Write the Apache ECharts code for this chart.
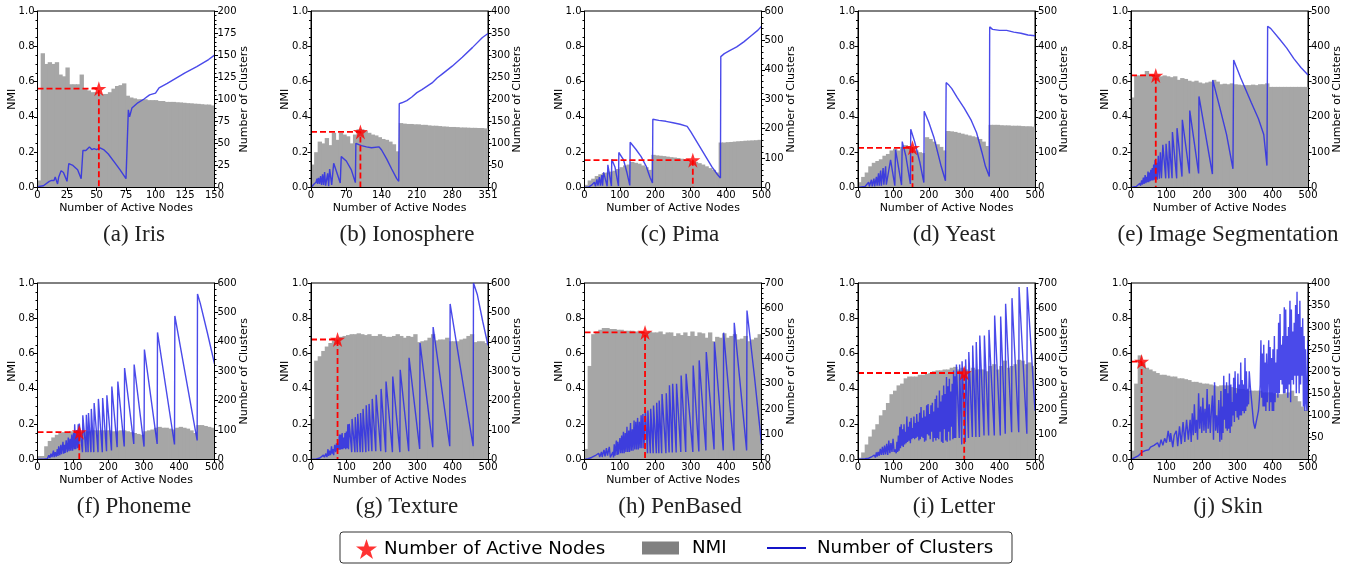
<!DOCTYPE html>
<html><head><meta charset="utf-8">
<style>html,body{margin:0;padding:0;background:#fff}#c{width:1356px;height:564px}</style>
<script src="https://cdn.jsdelivr.net/npm/echarts@6/dist/echarts.min.js"></script>
</head><body><div id="c"></div>
<script>
// ---------- shared NMI bar positions ----------
const nodes150=[1.5,4.5,7.5,10.5,13.5,16.5,19.5,22.5,25.5,28.5,31.5,34.5,37.5,40.5,43.5,46.5,49.5,52.5,55.5,58.5,61.5,64.5,67.5,70.5,73.5,76.5,79.5,82.5,85.5,88.5,91.5,94.5,97.5,100.5,103.5,106.5,109.5,112.5,115.5,118.5,121.5,124.5,127.5,130.5,133.5,136.5,139.5,142.5,145.5,148.5];
const nodes351=[3.5,10.5,17.5,24.5,31.5,38.5,45.5,52.5,59.5,66.5,73.5,80.5,87.5,94.5,101.5,108.5,115.5,122.5,129.5,136.5,143.5,150.5,157.5,164.5,171.5,178.5,185.5,192.5,199.5,206.5,213.5,220.5,227.5,234.5,241.5,248.5,255.5,262.5,269.5,276.5,283.5,290.5,297.5,304.5,311.5,318.5,325.5,332.5,339.5,347.5];
const nodes500=[5,15,25,35,45,55,65,75,85,95,105,115,125,135,145,155,165,175,185,195,205,215,225,235,245,255,265,275,285,295,305,315,325,335,345,355,365,375,385,395,405,415,425,435,445,455,465,475,485,495];

// ---------- NMI values ----------
const irisNmi=[.04,.76,.70,.71,.70,.71,.64,.63,.68,.585,.585,.585,.64,.56,.55,.54,.54,.535,.53,.53,.54,.56,.575,.58,.59,.52,.51,.505,.5,.5,.5,.495,.495,.495,.49,.49,.485,.485,.485,.483,.482,.48,.478,.477,.475,.474,.472,.47,.47,.465];
const ionoNmi=[.13,.20,.26,.25,.28,.24,.31,.27,.31,.30,.29,.25,.30,.33,.33,.32,.31,.30,.295,.285,.275,.27,.26,.245,.205,.365,.362,.36,.36,.358,.358,.355,.355,.352,.35,.35,.348,.346,.345,.343,.343,.342,.34,.34,.339,.338,.338,.337,.337,.335];
const pimaNmi=[.015,.04,.05,.065,.075,.082,.085,.09,.095,.105,.115,.125,.13,.145,.14,.135,.125,.115,.10,.185,.182,.18,.178,.175,.172,.17,.167,.163,.16,.155,.15,.145,.138,.13,.12,.11,.10,.085,.255,.255,.257,.258,.26,.262,.263,.265,.266,.267,.268,.27];
const yeastNmi=[.03,.06,.085,.12,.14,.15,.16,.18,.19,.21,.22,.21,.23,.24,.235,.23,.21,.20,.195,.285,.275,.26,.245,.23,.21,.32,.318,.315,.31,.305,.30,.295,.29,.285,.275,.26,.235,.355,.355,.355,.353,.352,.352,.35,.35,.35,.348,.347,.347,.345];
const imageNmi=[.51,.635,.635,.64,.66,.64,.635,.64,.63,.635,.63,.625,.63,.61,.62,.615,.605,.60,.605,.595,.59,.595,.60,.61,.60,.585,.588,.585,.59,.585,.583,.58,.58,.58,.583,.58,.585,.585,.59,.57,.57,.57,.57,.57,.57,.57,.57,.57,.57,.57];
const phonemeNmi=[.02,.02,.075,.105,.125,.14,.15,.155,.15,.16,.155,.16,.155,.16,.16,.165,.165,.165,.165,.165,.165,.16,.16,.165,.165,.16,.155,.15,.145,.14,.16,.165,.17,.18,.185,.18,.18,.175,.17,.18,.185,.18,.175,.165,.15,.195,.195,.19,.185,.18];
const textureNmi=[.23,.56,.585,.615,.64,.66,.675,.685,.695,.70,.705,.71,.71,.715,.71,.705,.71,.70,.70,.71,.70,.695,.695,.70,.71,.70,.69,.70,.695,.71,.665,.67,.675,.69,.71,.675,.68,.68,.69,.67,.67,.67,.68,.685,.70,.71,.665,.67,.67,.66];
const penNmi=[.06,.53,.71,.725,.735,.745,.745,.74,.74,.735,.735,.73,.73,.73,.725,.725,.72,.72,.725,.72,.72,.725,.71,.72,.72,.70,.715,.705,.72,.70,.725,.70,.72,.715,.69,.72,.67,.695,.69,.715,.69,.70,.71,.68,.685,.70,.67,.68,.69,.71];
const letterNmi=[.01,.04,.085,.13,.17,.20,.25,.28,.32,.37,.39,.42,.43,.46,.47,.47,.47,.48,.48,.485,.49,.50,.505,.505,.51,.51,.52,.525,.51,.52,.51,.50,.52,.51,.51,.51,.50,.53,.54,.51,.53,.56,.52,.53,.54,.565,.56,.54,.55,.53];
const skinNmi=[.05,.43,.59,.55,.52,.51,.50,.49,.48,.48,.475,.47,.47,.46,.46,.455,.45,.44,.44,.435,.43,.43,.425,.42,.415,.42,.42,.42,.41,.405,.40,.40,.395,.39,.39,.39,.39,.38,.38,.38,.375,.37,.37,.375,.38,.39,.36,.33,.30,.28];

// ---------- cluster curves: x positions and counts ----------
const irisX=[0,5,10,12,13,14,15,17,18,20,22,25,26,26.5,30,34,37,38.5,41,42,44,46,48,50,53,56,60,65,70,75,77,78,80,85,90,95,100,103,110,115,125,135,145,150];
const irisC=[1,2,7,8,10,8,12,4,12,19,17,7,6,27,25,20,10,42,42,41,46,43,44,43,45,43,38,29,20,10,88,80,90,96,100,105,107,113,118,122,130,137,145,150];
const ionoX=[0,6,10,12,13,15,17,19,21,23,25,27,29,33,35,37,41,45,50,58,60,70,80,88,89,91,95,100,110,120,135,140,150,160,170,174,175,180,190,200,210,220,240,250,260,280,300,320,340,351];
const ionoC=[0,8,12,20,8,22,8,26,6,30,6,35,4,32,3,42,6,55,38,10,70,60,40,11,100,100,97,95,92,90,92,85,65,42,20,14,190,192,197,205,215,222,237,248,257,275,295,317,340,349];
const pimaX=[0,12,20,24,28,31,35,38,42,45,49,51,54,64,66,76,77,86,96,97,110,120,128,129,145,160,175,185,192,193,197,210,230,250,270,290,300,320,340,360,375,384,385,395,410,430,450,470,490,500];
const pimaC=[0,2,8,4,18,4,28,6,35,6,42,6,52,4,77,5,96,70,5,119,95,50,7,154,130,105,70,35,15,232,235,228,225,220,215,208,190,150,110,70,45,32,445,455,465,478,495,515,535,548];
const yeastX=[0,20,25,30,32,35,38,40,45,47,52,54,58,60,64,66,71,73,78,80,85,92,104,106,123,125,135,148,149,160,175,186,187,200,215,235,247,249,255,265,280,300,320,335,350,360,371,372,380,400,420,440,460,480,500];
const yeastC=[0,3,5,15,3,8,22,3,25,3,30,5,40,5,48,5,55,8,60,8,8,78,5,107,7,130,90,10,165,130,70,14,216,185,140,60,19,297,292,280,255,225,190,155,100,60,31,455,448,445,445,440,437,432,430];
const imageX=[0,15,20,25,27,30,32,35,37,40,42,44,46,48,50,52,54,56,58,60,62,64,66,68,70,72,74,77,80,83,86,90,98,99,107,108,116,117,129,130,144,145,165,166,191,192,230,231,250,270,288,290,310,340,360,375,384,386,395,420,440,460,480,500];
const imageC=[0,3,8,12,5,20,8,28,10,35,12,30,15,45,15,42,18,50,20,55,20,65,22,78,25,70,22,90,25,100,26,121,26,124,26,132,26,157,26,168,31,192,40,218,40,258,38,304,230,150,53,361,310,240,195,150,62,457,450,420,395,365,340,319];
const phonemeX=[0,20,25,28,32,35,38,41,45,47,50,53,56,58,60,63,66,68,72,74,76,78,81,84,87,89,92,94,97,99,102,104,105,108,111,113,115,117,118,127,128,137,138,143,144,151,152,159,160,171,172,183,184,195,196,209,210,225,227,245,246,272,273,301,302,338,339,387,388,451,452,460,480,500];
const phonemeC=[0,2,6,3,14,5,20,8,30,8,25,10,35,12,45,15,50,18,60,20,50,22,65,25,75,28,70,30,85,30,90,35,120,35,100,38,120,40,122,25,150,25,152,25,158,25,172,25,192,25,206,25,209,28,218,31,248,42,265,44,311,53,323,44,374,53,432,51,488,65,563,530,430,325];
const textureX=[0,15,25,30,35,38,42,45,48,50,52,55,58,60,62,64,67,70,72,74,76,78,80,82,84,86,88,90,92,94,96,98,100,102,104,106,108,115,116,124,125,131,132,139,140,146,147,155,156,163,164,172,173,183,184,197,198,211,212,230,231,251,252,276,277,307,308,344,345,392,393,458,459,470,485,500];
const textureC=[0,2,5,8,15,8,20,8,35,12,30,15,45,20,35,15,50,25,55,30,55,33,85,33,85,35,90,35,75,38,90,35,95,38,120,35,121,25,138,25,144,25,155,25,158,25,172,25,184,28,189,28,206,28,220,28,240,25,265,25,282,25,305,28,346,36,396,42,450,45,529,45,600,560,470,388];
const penX=[0,10,20,30,35,40,43,48,50,55,58,62,65,70,73,75,80,82,84,86,90,92,94,96,100,102,105,107,110,112,115,117,120,122,125,127,130,132,135,137,140,142,145,147,150,152,155,157,160,162,165,168,172,178,179,186,187,194,195,203,204,210,211,218,219,230,231,239,240,248,249,259,260,272,273,286,287,306,307,323,324,343,344,366,367,392,393,422,423,458,459,480,500];
const penC=[0,3,8,15,8,25,10,30,10,38,12,45,15,50,8,15,30,8,60,15,75,18,70,20,85,25,95,25,110,25,105,30,130,30,115,30,145,35,120,35,155,40,150,40,165,40,150,45,175,45,180,45,190,25,194,25,201,25,214,25,225,25,234,25,260,25,263,28,294,28,300,28,300,30,333,30,340,30,373,32,393,36,426,40,466,36,503,36,542,36,591,330,62];
const letterX=[0,20,30,38,42,46,49,52,54,57,60,63,66,69,72,75,78,81,84,87,90,93,96,99,102,105,108,110,112,114,116,118,120,122,124,126,128,130,132,134,136,138,140,142,144,146,148,150,152,154,156,158,160,162,164,166,168,170,172,174,176,178,180,182,184,186,188,190,192,194,196,198,200,202,204,206,208,210,212,214,216,218,220,222,224,226,228,230,232,234,236,238,240,242,244,246,248,250,252,254,256,258,260,262,264,266,268,270,272,274,276,278,286,287,293,294,303,304,312,313,323,324,333,334,343,344,356,357,369,370,385,386,402,403,416,417,434,435,454,455,477,478,490,500];
const letterC=[0,3,5,10,6,18,8,28,12,30,15,42,18,50,18,55,20,62,18,75,25,65,30,82,30,40,25,70,30,95,35,130,45,140,55,120,50,140,60,110,65,170,70,130,75,150,65,165,80,125,85,170,80,145,85,180,90,150,75,185,80,208,90,165,85,195,70,170,75,215,100,220,95,180,80,215,110,225,70,190,85,240,75,254,85,205,80,274,110,230,70,255,65,293,120,260,75,327,70,290,110,320,75,270,130,300,80,353,85,330,85,377,85,377,60,390,69,397,85,426,89,452,89,466,89,492,95,492,95,514,95,571,95,567,102,618,108,640,108,684,102,684,420,194];
const skinX=[0,20,30,40,50,55,60,65,70,75,80,85,90,95,100,105,110,112,118,122,128,132,137,142,147,152,157,162,167,170,173,176,179,182,185,188,191,194,197,200,203,206,209,212,215,218,221,224,227,230,233,236,239,242,245,248,251,254,256,258,260,262,264,266,268,270,272,274,276,278,280,282,284,286,288,290,292,294,296,298,300,302,304,306,308,310,312,314,316,318,320,322,324,326,328,330,332,334,337,341,346,350,355,360,363,365,367,369,371,373,375,377,379,381,383,385,387,389,391,393,395,397,399,401,403,405,407,409,411,413,415,417,419,421,423,425,427,429,431,433,435,437,439,441,443,445,447,449,451,453,455,457,459,461,463,465,467,469,471,473,475,477,479,481,483,485,487,489,491,493,495,497,499,500];
const skinC=[0,8,16,20,22,28,25,32,30,38,28,45,32,48,38,65,40,60,28,55,65,30,75,35,85,40,90,45,90,40,105,55,125,60,90,45,150,70,120,60,140,65,115,60,160,70,125,60,110,145,45,175,65,100,60,135,40,155,45,120,60,190,90,160,70,175,65,150,70,195,60,170,75,130,100,185,85,200,110,150,95,195,90,170,100,220,100,180,110,170,105,230,110,200,120,160,125,200,165,130,85,70,72,110,140,170,270,140,240,120,260,120,220,110,240,130,200,270,110,255,130,230,110,250,110,280,130,220,150,250,140,310,150,330,180,260,170,280,150,345,150,340,160,280,140,300,170,360,130,340,180,290,170,310,190,350,150,380,190,330,150,360,170,300,190,320,120,280,110,250,130,110,240,270];

// ---------- optimum markers ----------
const bestNode=[52,98,306,154,70,118,75,171,300,30];
const bestNmi=[.56,.315,.155,.225,.635,.155,.68,.72,.49,.555];

// ---------- labels ----------
const captions=['(a) Iris','(b) Ionosphere','(c) Pima','(d) Yeast','(e) Image Segmentation','(f) Phoneme','(g) Texture','(h) PenBased','(i) Letter','(j) Skin'];
const xTicks=[[0,25,50,75,100,125,150],[0,70,140,210,280,351],[0,100,200,300,400,500]];
const clusterMax=[200,400,600,500,500,600,600,700,700,400];
const clusterStep=[25,50,100,100,100,100,100,100,100,50];
const xMax=[150,351,500,500,500,500,500,500,500,500];

const nmiSets=[[nodes150,irisNmi],[nodes351,ionoNmi],[nodes500,pimaNmi],[nodes500,yeastNmi],[nodes500,imageNmi],[nodes500,phonemeNmi],[nodes500,textureNmi],[nodes500,penNmi],[nodes500,letterNmi],[nodes500,skinNmi]];
const clusterSets=[[irisX,irisC],[ionoX,ionoC],[pimaX,pimaC],[yeastX,yeastC],[imageX,imageC],[phonemeX,phonemeC],[textureX,textureC],[penX,penC],[letterX,letterC],[skinX,skinC]];

// ---------- layout ----------
const lefts=[37.5,311,584.5,858,1131];
const tops=[11,283];
const panelW=177, panelH=176.5;
const capX=[129,402,675,949,1223];
const capY=[218,490];
const FONT='"DejaVu Sans"';
const STAR='path://M50 0 L61.2 34.5 L97.6 34.5 L68.2 55.9 L79.4 90.5 L50 69.1 L20.6 90.5 L31.8 55.9 L2.4 34.5 L38.8 34.5 Z';

const grid=[],xAxis=[],yAxis=[],series=[],title=[];
const axisCommon={axisLine:{show:true,onZero:false,lineStyle:{color:'#000',width:1}},splitLine:{show:false},z:6,nameMoveOverlap:false};
for(let i=0;i<10;i++){
  const col=i%5,row=Math.floor(i/5);
  grid.push({left:lefts[col],top:tops[row],width:panelW,height:panelH,show:true,borderColor:'#000',borderWidth:1,backgroundColor:'transparent',containLabel:false});
  const ticks=i===0?xTicks[0]:i===1?xTicks[1]:xTicks[2];
  xAxis.push({...axisCommon,type:'value',gridIndex:i,min:0,max:xMax[i],
    axisTick:{show:true,length:3.5,lineStyle:{color:'#000'},customValues:ticks},
    axisLabel:{color:'#000',fontFamily:FONT,fontSize:10,margin:3,customValues:ticks,hideOverlap:false,showMinLabel:true,showMaxLabel:true},
    name:'Number of Active Nodes',nameLocation:'middle',nameGap:15,nameTextStyle:{color:'#000',fontFamily:FONT,fontSize:11}});
  yAxis.push({...axisCommon,type:'value',gridIndex:i,position:'left',min:0,max:1,interval:.2,
    axisTick:{show:true,length:3.5,lineStyle:{color:'#000'}},
    minorTick:{show:true,splitNumber:4,length:2,lineStyle:{color:'#000'}},minorSplitLine:{show:false},
    axisLabel:{color:'#000',fontFamily:FONT,fontSize:10,margin:3,formatter:v=>v.toFixed(1)},
    name:'NMI',nameLocation:'middle',nameRotate:90,nameGap:20,nameTextStyle:{color:'#000',fontFamily:FONT,fontSize:11}});
  yAxis.push({...axisCommon,type:'value',gridIndex:i,position:'right',min:0,max:clusterMax[i],interval:clusterStep[i],
    axisTick:{show:true,length:3.5,lineStyle:{color:'#000'}},
    minorTick:{show:true,splitNumber:5,length:2,lineStyle:{color:'#000'}},minorSplitLine:{show:false},
    axisLabel:{color:'#000',fontFamily:FONT,fontSize:10,margin:3},
    name:'Number of Clusters',nameLocation:'middle',nameRotate:90,nameGap:24,nameTextStyle:{color:'#000',fontFamily:FONT,fontSize:11}});
  const yL=i*2,yR=i*2+1;
  const barW=panelW/50+0.8;
  series.push({name:'NMI',type:'bar',xAxisIndex:i,yAxisIndex:yL,barWidth:barW,silent:true,animation:false,
    itemStyle:{color:'#a6a6a6'},data:nmiSets[i][0].map((x,k)=>[x,nmiSets[i][1][k]]),z:2});
  series.push({name:'Number of Clusters',type:'line',xAxisIndex:i,yAxisIndex:yR,showSymbol:false,silent:true,animation:false,clip:true,
    lineStyle:{color:'#2a2ae6',width:1.4,opacity:.85},itemStyle:{color:'#2a2ae6'},
    data:clusterSets[i][0].map((x,k)=>[x,clusterSets[i][1][k]]),z:3});
  series.push({name:'guide',type:'line',xAxisIndex:i,yAxisIndex:yL,showSymbol:false,silent:true,animation:false,
    lineStyle:{color:'#ff0000',width:1.8,type:[6,3]},itemStyle:{color:'#ff0000'},
    data:[[0,bestNmi[i]],[bestNode[i],bestNmi[i]],[bestNode[i],0]],z:4});
  series.push({name:'Number of Active Nodes',type:'scatter',xAxisIndex:i,yAxisIndex:yL,symbol:STAR,symbolSize:15,silent:true,animation:false,
    itemStyle:{color:'#ff0000'},data:[[bestNode[i],bestNmi[i]]],z:5});
  title.push({text:captions[i],left:capX[col],top:capY[row],textAlign:'center',
    textStyle:{color:'#222',fontFamily:'"Liberation Serif"',fontSize:23,fontWeight:'normal'}});
}
const legendText=p=>({color:'#000',fontFamily:FONT,fontSize:18.2,padding:[0,0,0,p]});
const legend=[
 {data:[{name:'Number of Active Nodes',icon:STAR}],left:351,top:534,itemWidth:21,itemHeight:21,selectedMode:false,textStyle:legendText(2),itemStyle:{color:'#ff0000'}},
 {data:[{name:'NMI',icon:'rect'}],left:637,top:534,itemWidth:37,itemHeight:13,selectedMode:false,textStyle:legendText(8),itemStyle:{color:'#808080',opacity:1}},
 {data:[{name:'Number of Clusters'}],left:761,top:534,itemWidth:39,itemHeight:13,selectedMode:false,textStyle:legendText(6),lineStyle:{color:'#1414c8',width:2,opacity:1},itemStyle:{opacity:0}}
];
const chart=echarts.init(document.getElementById('c'),null,{renderer:'canvas'});
chart.setOption({animation:false,backgroundColor:'#fff',title,grid,xAxis,yAxis,series,legend,
 graphic:[{type:'rect',shape:{x:340,y:532,width:672,height:31,r:3},style:{fill:'transparent',stroke:'#333',lineWidth:1},silent:true,z:-1}]});
</script></body></html>
